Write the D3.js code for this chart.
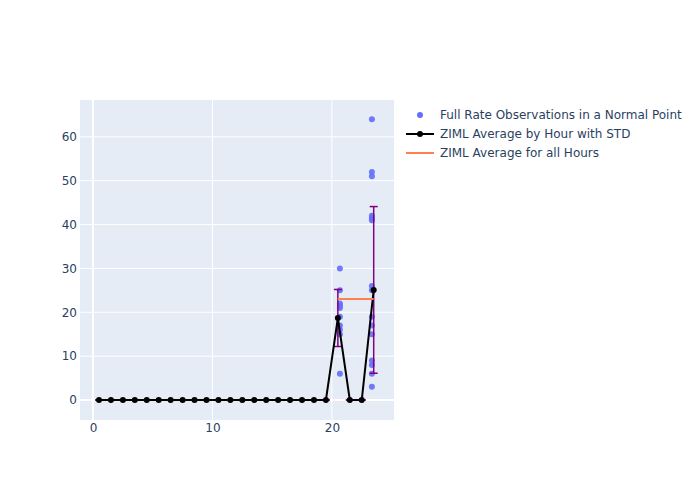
<!DOCTYPE html>
<html><head><meta charset="utf-8">
<script src="https://cdn.jsdelivr.net/npm/d3@7"></script>
<style>body{margin:0;background:#fff}svg{font-family:"DejaVu Sans",verdana,arial,sans-serif}</style>
</head><body><svg id="c" width="700" height="500"></svg>
<script>
const hours = d3.range(24).map(h => h + 0.5);
const hourAvg = [0,0,0,0,0,0,0,0,0,0,0,0,0,0,0,0,0,0,0,0,18.7,0,0,25.1];
const hourStd = [0,0,0,0,0,0,0,0,0,0,0,0,0,0,0,0,0,0,0,0,6.5,0,0,19.0];
const obsX = [20.67,20.67,20.67,20.67,20.67,20.67,20.67,20.67,20.67,20.67,
              23.35,23.35,23.35,23.35,23.35,23.35,23.35,23.35,23.35,23.35,23.35,23.35,23.35,23.35,23.35];
const obsY = [30,25,22,21.5,21,19,17,16,15,6,
              64,52,51,42,41.5,41,26,25,19,17,15,9,8,6,3];
const allAvgX = [20.5, 23.5];
const allAvgY = [23, 23];
const xTicks = [0,10,20];
const yTicks = [0,10,20,30,40,50,60];
const legendLabels = ["Full Rate Observations in a Normal Point","ZIML Average by Hour with STD","ZIML Average for all Hours"];

const svg = d3.select("#c");
const L=80,R=394,T=100,B=420;
const x = d3.scaleLinear().domain([-1.09,25.2]).range([L,R]);
const y = d3.scaleLinear().domain([-4.56,68.4]).range([B,T]);

svg.append("rect").attr("x",L).attr("y",T).attr("width",R-L).attr("height",B-T).attr("fill","#E5ECF6");
const g = svg.append("g");
g.selectAll(".gx").data(xTicks).join("line").attr("x1",d=>x(d)).attr("x2",d=>x(d)).attr("y1",T).attr("y2",B)
 .attr("stroke","#fff").attr("stroke-width",d=>d===0?2:1);
g.selectAll(".gy").data(yTicks).join("line").attr("y1",d=>y(d)).attr("y2",d=>y(d)).attr("x1",L).attr("x2",R)
 .attr("stroke","#fff").attr("stroke-width",d=>d===0?2:1);

const xAxis = d3.axisBottom(x).tickValues(xTicks).tickSize(0).tickPadding(3);
const yAxis = d3.axisLeft(y).tickValues(yTicks).tickSize(0).tickPadding(3);
const ax = svg.append("g").attr("transform",`translate(0,${B})`).call(xAxis);
const ay = svg.append("g").attr("transform",`translate(${L},0)`).call(yAxis);
[ax,ay].forEach(a=>{a.select(".domain").remove();a.selectAll("text").attr("fill","#2a3f5f").attr("font-size",12).attr("font-family","DejaVu Sans");});

// scatter
svg.append("g").selectAll("circle").data(obsY).join("circle")
 .attr("cx",(d,i)=>x(obsX[i])).attr("cy",d=>y(d)).attr("r",3).attr("fill","#636efa").attr("opacity",0.9);

// error bars
const eb = svg.append("g").attr("stroke","#800080").attr("stroke-width",1.5);
hours.forEach((h,i)=>{
  const hi=y(hourAvg[i]+hourStd[i]), lo=y(hourAvg[i]-hourStd[i]);
  eb.append("line").attr("x1",x(h)).attr("x2",x(h)).attr("y1",hi).attr("y2",lo);
  eb.append("line").attr("x1",x(h)-4).attr("x2",x(h)+4).attr("y1",hi).attr("y2",hi);
  eb.append("line").attr("x1",x(h)-4).attr("x2",x(h)+4).attr("y1",lo).attr("y2",lo);
});
// avg line
svg.append("path").datum(hours).attr("fill","none").attr("stroke","#000").attr("stroke-width",2)
 .attr("d",d3.line().x(d=>x(d)).y((d,i)=>y(hourAvg[i])));
svg.append("g").selectAll("circle").data(hours).join("circle")
 .attr("cx",d=>x(d)).attr("cy",(d,i)=>y(hourAvg[i])).attr("r",3).attr("fill","#000");
// all hours avg
svg.append("path").datum(allAvgX).attr("fill","none").attr("stroke","#FF7F50").attr("stroke-width",2)
 .attr("d",d3.line().x(d=>x(d)).y((d,i)=>y(allAvgY[i])));

// legend
const lg = svg.append("g");
const ly=[115,134,153];
lg.append("circle").attr("cx",420).attr("cy",ly[0]).attr("r",3).attr("fill","#636efa");
lg.append("line").attr("x1",406).attr("x2",434).attr("y1",ly[1]).attr("y2",ly[1]).attr("stroke","#000").attr("stroke-width",2);
lg.append("circle").attr("cx",420).attr("cy",ly[1]).attr("r",3).attr("fill","#000");
lg.append("line").attr("x1",406).attr("x2",434).attr("y1",ly[2]).attr("y2",ly[2]).attr("stroke","#FF7F50").attr("stroke-width",2);
lg.selectAll("text").data(legendLabels).join("text").attr("x",440).attr("y",(d,i)=>ly[i]).attr("dy","0.35em")
 .attr("font-size",12).attr("fill","#2a3f5f").text(d=>d);
</script></body></html>
